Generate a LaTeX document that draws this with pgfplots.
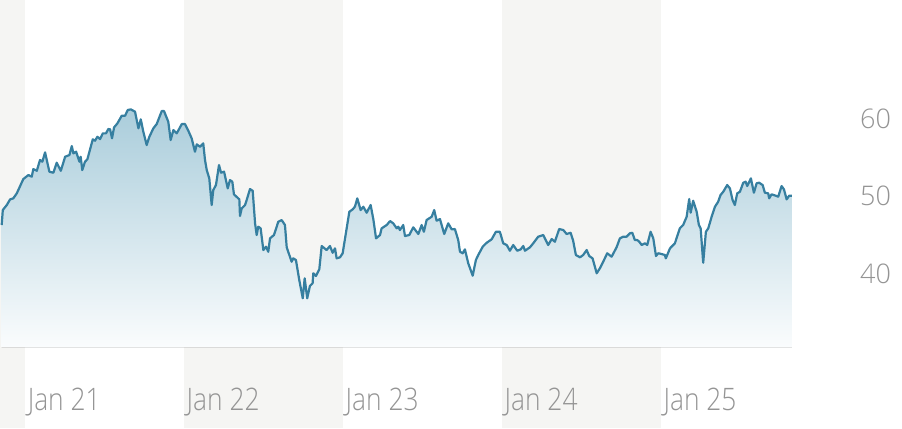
\documentclass[border=0pt]{standalone}
\usepackage{pgfplots}
\pgfplotsset{compat=1.18}
\usepackage{pgfplotstable}
\usepgfplotslibrary{fillbetween}
\usepackage{fontspec}
\setmainfont{Open Sans}[UprightFont={* Light}]
\newfontfamily\xlab{Open Sans}[UprightFont={* Light},FakeStretch=0.85]

\definecolor{bandgray}{RGB}{245,245,243}
\definecolor{linecol}{RGB}{54,127,160}
\definecolor{filltop}{RGB}{170,205,219}
\definecolor{fillbot}{RGB}{250,252,253}
\definecolor{labgray}{RGB}{148,148,148}

% share price (x = decimal year)
\pgfplotstableread{
x y
2020.853 46.26
2020.860 48.19
2020.885 48.84
2020.906 49.57
2020.926 49.70
2020.948 50.35
2020.969 51.29
2020.989 52.19
2021.021 52.71
2021.042 52.49
2021.052 53.48
2021.074 53.26
2021.094 54.65
2021.109 54.43
2021.126 55.64
2021.153 53.14
2021.178 53.01
2021.199 54.30
2021.225 53.26
2021.252 55.07
2021.279 55.29
2021.294 56.45
2021.304 55.51
2021.321 55.72
2021.342 54.43
2021.350 55.07
2021.360 53.35
2021.377 54.43
2021.392 54.74
2021.426 57.32
2021.440 57.14
2021.455 57.65
2021.472 57.35
2021.489 58.09
2021.509 58.09
2021.524 58.65
2021.535 58.61
2021.547 57.45
2021.560 58.86
2021.581 59.38
2021.608 60.36
2021.629 60.36
2021.646 61.10
2021.665 61.19
2021.692 60.88
2021.713 58.74
2021.728 59.90
2021.744 58.30
2021.765 56.58
2021.782 57.65
2021.807 58.74
2021.828 59.29
2021.860 60.97
2021.874 60.97
2021.901 59.59
2021.916 57.23
2021.933 58.52
2021.954 58.09
2021.986 59.29
2022.006 59.29
2022.027 58.43
2022.048 57.45
2022.069 55.72
2022.080 56.67
2022.101 56.36
2022.121 56.80
2022.132 54.65
2022.143 53.35
2022.159 52.28
2022.174 48.84
2022.184 50.77
2022.201 51.42
2022.220 54.00
2022.233 53.01
2022.252 53.14
2022.275 50.99
2022.289 52.06
2022.304 51.85
2022.314 50.22
2022.348 49.57
2022.352 47.42
2022.363 48.41
2022.384 48.84
2022.394 49.48
2022.415 50.90
2022.432 50.68
2022.447 46.48
2022.457 44.97
2022.467 46.04
2022.482 45.83
2022.499 43.03
2022.516 43.46
2022.530 42.81
2022.541 44.54
2022.566 44.97
2022.593 46.68
2022.614 46.90
2022.635 46.26
2022.646 43.38
2022.677 41.52
2022.687 41.96
2022.704 41.74
2022.725 39.16
2022.747 36.80
2022.759 39.38
2022.775 36.80
2022.792 38.39
2022.809 38.74
2022.813 40.03
2022.830 39.68
2022.851 40.54
2022.866 43.55
2022.897 43.03
2022.918 43.55
2022.935 42.68
2022.950 43.25
2022.960 41.96
2022.981 42.09
2022.998 42.61
2023.013 44.54
2023.040 47.97
2023.061 48.28
2023.075 48.62
2023.090 49.70
2023.111 48.19
2023.128 48.62
2023.149 47.85
2023.174 48.84
2023.191 46.99
2023.208 44.54
2023.233 44.97
2023.243 45.83
2023.275 46.26
2023.296 46.77
2023.316 46.48
2023.338 45.83
2023.348 46.04
2023.358 45.61
2023.379 46.26
2023.390 44.84
2023.417 44.97
2023.442 45.96
2023.474 45.10
2023.495 46.26
2023.509 45.39
2023.526 46.90
2023.558 47.33
2023.574 48.19
2023.589 46.81
2023.610 47.03
2023.637 45.10
2023.662 46.48
2023.684 45.70
2023.704 45.74
2023.725 44.32
2023.736 42.81
2023.753 42.61
2023.767 43.12
2023.788 41.32
2023.816 39.72
2023.836 41.74
2023.851 42.39
2023.879 43.46
2023.904 43.97
2023.935 44.41
2023.962 45.39
2023.987 45.39
2024.008 43.90
2024.030 43.68
2024.050 42.94
2024.071 43.68
2024.096 42.94
2024.118 43.12
2024.134 43.55
2024.145 42.94
2024.176 43.38
2024.197 43.90
2024.228 44.75
2024.260 44.97
2024.270 44.54
2024.291 43.68
2024.313 44.45
2024.333 44.10
2024.360 45.74
2024.386 45.61
2024.407 45.10
2024.432 45.26
2024.448 44.23
2024.465 42.39
2024.491 42.09
2024.511 42.39
2024.533 43.03
2024.549 42.26
2024.570 41.96
2024.596 40.03
2024.616 40.67
2024.637 41.52
2024.662 42.61
2024.690 42.17
2024.721 43.38
2024.742 44.54
2024.763 44.75
2024.784 44.75
2024.805 45.19
2024.820 45.26
2024.836 44.32
2024.851 44.32
2024.864 44.10
2024.879 43.68
2024.899 43.90
2024.914 43.68
2024.935 45.39
2024.952 44.54
2024.969 42.26
2024.983 42.61
2025.004 42.52
2025.025 42.39
2025.031 41.96
2025.057 43.25
2025.088 43.90
2025.119 45.83
2025.140 46.26
2025.162 47.33
2025.178 49.61
2025.187 47.85
2025.203 49.39
2025.225 47.97
2025.239 46.26
2025.250 45.83
2025.266 41.39
2025.283 45.39
2025.298 45.83
2025.319 47.33
2025.340 48.62
2025.360 49.26
2025.375 50.13
2025.392 50.55
2025.417 51.42
2025.434 50.99
2025.451 49.48
2025.465 48.84
2025.480 50.35
2025.497 50.55
2025.518 51.72
2025.533 51.85
2025.543 51.29
2025.566 52.28
2025.585 50.43
2025.602 51.64
2025.618 51.72
2025.640 51.42
2025.654 50.43
2025.675 50.35
2025.681 49.70
2025.696 50.22
2025.728 50.00
2025.738 49.91
2025.759 51.29
2025.774 50.86
2025.791 49.57
2025.807 50.04
2025.824 50.04
}\price

\begin{document}
\begin{tikzpicture}
\begin{axis}[
  set layers,
  scale only axis,
  width=902pt, height=428pt,
  xmin=2020.843, xmax=2026.516,
  ymin=20.06, ymax=75.29,
  axis line style={draw=none},
  major tick length=0pt,
  /pgf/number format/assume math mode=true,
  xtick={2021,2022,2023,2024,2025},
  xticklabels={Jan 21,Jan 22,Jan 23,Jan 24,Jan 25},
  xticklabel style={anchor=base west, inner sep=0pt, xshift=2.5pt, yshift=18pt,
    font=\xlab\fontsize{31}{36}\selectfont, text=labgray},
  ytick={40,50,60},
  yticklabel pos=right,
  yticklabel style={anchor=west, inner sep=0pt, xshift=-42pt,
    font=\fontsize{27}{32}\selectfont, text=labgray},
]
% year bands, behind everything
\addplot[draw=none, fill=bandgray, forget plot, on layer=axis background] coordinates
  {(2020.843,20.06) (2021,20.06) (2021,75.29) (2020.843,75.29)};
\addplot[draw=none, fill=bandgray, forget plot, on layer=axis background] coordinates
  {(2022,20.06) (2023,20.06) (2023,75.29) (2022,75.29)};
\addplot[draw=none, fill=bandgray, forget plot, on layer=axis background] coordinates
  {(2024,20.06) (2025,20.06) (2025,75.29) (2024,75.29)};

\addplot[name path=base, draw=none, forget plot] coordinates
  {(2020.853,30.5) (2025.824,30.5)};
\addplot[name path=price, draw=none, forget plot] table {\price};
\addplot[top color=filltop, bottom color=fillbot, draw=none]
  fill between[of=price and base];

\addplot[linecol, line width=2.2pt, line join=round] table {\price};
\end{axis}
\end{tikzpicture}
\end{document}
